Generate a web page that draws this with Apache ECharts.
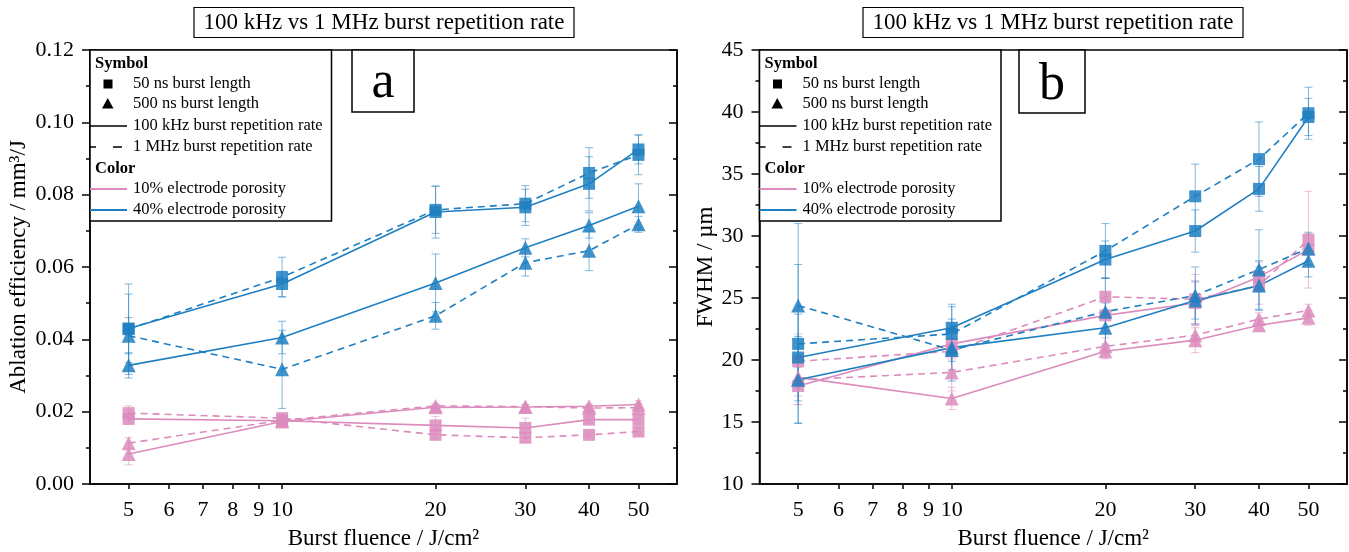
<!DOCTYPE html>
<html><head><meta charset="utf-8">
<script src="https://cdn.jsdelivr.net/npm/echarts@6/dist/echarts.min.js"></script>
<style>html,body{margin:0;padding:0;background:#fff}#c{width:1349px;height:552px}</style>
</head><body><div id="c"></div>
<script>
// ---------- data ----------
const fluence = [5, 10, 20, 30, 40, 50];                    // J/cm²
const xTickValues = [5, 6, 7, 8, 9, 10, 20, 30, 40, 50];

// Panel a: ablation efficiency (mm³/J)
const effP10Sq100k  = [0.0180, 0.0175, 0.0162, 0.0155, 0.0178, 0.0178];
const effP10Sq1M    = [0.0196, 0.0182, 0.0136, 0.0128, 0.0136, 0.0145];
const effP10Tri100k = [0.0083, 0.0173, 0.0212, 0.0213, 0.0215, 0.0220];
const effP10Tri1M   = [0.0113, 0.0176, 0.0216, 0.0214, 0.0210, 0.0211];
const effP40Sq100k  = [0.0430, 0.0553, 0.0752, 0.0765, 0.0830, 0.0925];
const effP40Sq1M    = [0.0428, 0.0572, 0.0758, 0.0775, 0.0860, 0.0910];
const effP40Tri100k = [0.0328, 0.0405, 0.0556, 0.0653, 0.0715, 0.0768];
const effP40Tri1M   = [0.0410, 0.0317, 0.0465, 0.0612, 0.0645, 0.0718];

const effErrP10Sq100k  = [0.0015, 0.0010, 0.0025, 0.0027, 0.0010, 0.0012];
const effErrP10Sq1M    = [0.0020, 0.0010, 0.0010, 0.0012, 0.0008, 0.0010];
const effErrP10Tri100k = [0.0030, 0.0008, 0.0008, 0.0006, 0.0006, 0.0010];
const effErrP10Tri1M   = [0.0015, 0.0008, 0.0006, 0.0006, 0.0006, 0.0010];
const effErrP40Sq100k  = [0.0095, 0.0035, 0.0072, 0.0050, 0.0075, 0.0040];
const effErrP40Sq1M    = [0.0125, 0.0055, 0.0065, 0.0050, 0.0070, 0.0055];
const effErrP40Tri100k = [0.0035, 0.0045, 0.0080, 0.0025, 0.0035, 0.0062];
const effErrP40Tri1M   = [0.0050, 0.0108, 0.0037, 0.0037, 0.0055, 0.0022];

// Panel b: FWHM (µm)
const fwhmP10Sq100k  = [17.9, 21.3, 23.6, 24.6, 26.7, 28.9];
const fwhmP10Sq1M    = [19.9, 20.7, 25.1, 24.9, 26.0, 29.7];
const fwhmP10Tri100k = [18.6, 16.9, 20.7, 21.6, 22.8, 23.4];
const fwhmP10Tri1M   = [18.4, 19.0, 21.1, 22.0, 23.3, 24.0];
const fwhmP40Sq100k  = [20.2, 22.6, 28.1, 30.4, 33.8, 39.6];
const fwhmP40Sq1M    = [21.3, 22.1, 28.8, 33.2, 36.2, 39.9];
const fwhmP40Tri100k = [18.4, 21.0, 22.6, 24.8, 26.0, 28.0];
const fwhmP40Tri1M   = [24.4, 20.8, 23.9, 25.2, 27.3, 29.0];

const fwhmErrP10Sq100k  = [1.5, 1.2, 1.2, 1.8, 1.2, 1.3];
const fwhmErrP10Sq1M    = [2.2, 1.5, 1.5, 2.0, 1.5, 3.9];
const fwhmErrP10Tri100k = [1.5, 0.9, 0.6, 1.0, 0.5, 0.6];
const fwhmErrP10Tri1M   = [2.0, 1.5, 0.7, 0.8, 0.5, 0.5];
const fwhmErrP40Sq100k  = [3.5, 1.9, 1.5, 1.7, 1.8, 1.5];
const fwhmErrP40Sq1M    = [6.4, 2.2, 2.2, 2.6, 3.0, 2.1];
const fwhmErrP40Tri100k = [3.5, 1.8, 2.0, 1.5, 2.0, 1.3];
const fwhmErrP40Tri1M   = [6.6, 2.5, 2.7, 2.3, 3.2, 1.3];

const titleText = '100 kHz vs 1 MHz burst repetition rate';
const xName = 'Burst fluence / J/cm²';
const yNameA = 'Ablation efficiency / mm³/J';
const yNameB = 'FWHM / µm';
const legendSymbolTitle = 'Symbol';
const legendColorTitle = 'Color';
const legendTexts = ['50 ns burst length', '500 ns burst length', '100 kHz burst repetition rate', '1 MHz burst repetition rate', '10% electrode porosity', '40% electrode porosity'];

// ---------- style ----------
const PINK = '#dc8cbc';
const BLUE = '#1f7fc1';
const FONT = "'Liberation Serif', 'Times New Roman', serif";
const LFS = 16.5;   // legend font size
const TFS = 23;     // title / axis-name font size
const KFS = 22;     // tick label font size

const chart = echarts.init(document.getElementById('c'), null, {renderer: 'canvas'});

function lineSeries(gi, vals, color, sym, dashed) {
  return {
    type: 'line', xAxisIndex: gi, yAxisIndex: gi * 2,
    data: fluence.map((x, i) => [x, vals[i]]),
    symbol: sym === 'sq' ? 'rect' : 'triangle',
    symbolSize: sym === 'sq' ? 12 : 14,
    lineStyle: {color: color, width: 1.6, type: dashed ? [7, 5] : 'solid'},
    itemStyle: {color: color, opacity: 0.85},
    z: 3, animation: false, silent: true
  };
}
function errSeries(gi, vals, errs, color) {
  return {
    type: 'custom', xAxisIndex: gi, yAxisIndex: gi * 2,
    data: fluence.map((x, i) => [x, vals[i] - errs[i], vals[i] + errs[i]]),
    encode: {x: 0, y: [1, 2]},
    renderItem: function (params, api) {
      const x = api.value(0);
      const p1 = api.coord([x, api.value(1)]);
      const p2 = api.coord([x, api.value(2)]);
      const w = 4;
      const st = {stroke: color, lineWidth: 1, opacity: 0.55};
      return {type: 'group', children: [
        {type: 'line', shape: {x1: p1[0], y1: p1[1], x2: p2[0], y2: p2[1]}, style: st},
        {type: 'line', shape: {x1: p1[0] - w, y1: p1[1], x2: p1[0] + w, y2: p1[1]}, style: st},
        {type: 'line', shape: {x1: p2[0] - w, y1: p2[1], x2: p2[0] + w, y2: p2[1]}, style: st}
      ]};
    },
    z: 2, animation: false, silent: true
  };
}

function xAxisDef(gi) {
  return {
    gridIndex: gi, type: 'log', logBase: 10, min: 4.2, max: 59.5,
    name: xName, nameLocation: 'middle', nameGap: 43,
    nameTextStyle: {fontFamily: FONT, fontSize: TFS, color: '#000'},
    axisLine: {show: true, lineStyle: {color: '#000', width: 1.5}},
    axisTick: {show: true, inside: false, length: 5, lineStyle: {color: '#000', width: 1.5}, customValues: xTickValues},
    axisLabel: {show: true, fontFamily: FONT, fontSize: KFS, color: '#000', margin: 15, customValues: xTickValues, formatter: v => String(Math.round(v))},
    minorTick: {show: false}, splitLine: {show: false}
  };
}
function yAxesDef(gi, min, max, interval, name, fmt, gap) {
  return [{
    gridIndex: gi, type: 'value', min: min, max: max, interval: interval, position: 'left',
    name: name, nameLocation: 'middle', nameGap: gap,
    nameTextStyle: {fontFamily: FONT, fontSize: TFS, color: '#000'},
    axisLine: {show: true, lineStyle: {color: '#000', width: 1.5}},
    axisTick: {show: true, inside: false, length: 8, lineStyle: {color: '#000', width: 1.5}},
    minorTick: {show: true, splitNumber: 2, length: 4, lineStyle: {color: '#000', width: 1.5}},
    axisLabel: {fontFamily: FONT, fontSize: KFS, color: '#000', margin: 16, formatter: fmt},
    splitLine: {show: false}, minorSplitLine: {show: false}
  }, {
    gridIndex: gi, type: 'value', min: min, max: max, interval: interval, position: 'right',
    axisLine: {show: true, lineStyle: {color: '#000', width: 1.5}},
    axisTick: {show: true, inside: true, length: 8, lineStyle: {color: '#000', width: 1.5}},
    minorTick: {show: true, splitNumber: 2, length: 4, lineStyle: {color: '#000', width: 1.5}},
    axisLabel: {show: false}, splitLine: {show: false}
  }];
}

function legendGraphics(ox) {
  const t = (x, y, s, bold) => ({type: 'text', x: x, y: y, z: 101,
    style: {text: s, font: (bold ? 'bold ' : '') + LFS + 'px ' + FONT, fill: '#000', textVerticalAlign: 'middle', verticalAlign: 'middle', textAlign: 'left'}});
  const ln = (x1, x2, y, color, w) => ({type: 'line', z: 101, shape: {x1: x1, y1: y, x2: x2, y2: y}, style: {stroke: color, lineWidth: w}});
  return [
    {type: 'rect', z: 100, shape: {x: ox, y: 50, width: 241.5, height: 171}, style: {fill: '#fff', stroke: '#000', lineWidth: 1.5}},
    t(ox + 5, 64, legendSymbolTitle, true),
    {type: 'rect', z: 101, shape: {x: ox + 13.5, y: 79.5, width: 9, height: 9}, style: {fill: '#000'}},
    {type: 'polygon', z: 101, shape: {points: [[ox + 12, 108.5], [ox + 23.5, 108.5], [ox + 17.75, 98]]}, style: {fill: '#000'}},
    t(ox + 43, 84, legendTexts[0]),
    t(ox + 43, 104, legendTexts[1]),
    ln(ox, ox + 37, 126, '#000', 1.5),
    t(ox + 43, 126, legendTexts[2]),
    ln(ox, ox + 6, 147, '#000', 1.5),
    ln(ox + 23, ox + 32, 147, '#000', 1.5),
    t(ox + 43, 147, legendTexts[3]),
    t(ox + 5, 168.5, legendColorTitle, true),
    ln(ox, ox + 37, 189, PINK, 2),
    t(ox + 43, 189, legendTexts[4]),
    ln(ox, ox + 37, 210, BLUE, 2),
    t(ox + 43, 210, legendTexts[5])
  ];
}
function boxGraphics(cx, letter, bx, bw, bh, ly) {
  return [
    {type: 'rect', z: 100, shape: {x: cx - 190, y: 7.5, width: 380, height: 30}, style: {fill: '#fff', stroke: '#000', lineWidth: 1.2}},
    {type: 'text', z: 101, x: cx, y: 23, style: {text: titleText, font: TFS + 'px ' + FONT, fill: '#000', align: 'center', verticalAlign: 'middle', textAlign: 'center', textVerticalAlign: 'middle'}},
    {type: 'rect', z: 100, shape: {x: bx, y: 50, width: bw, height: bh}, style: {fill: '#fff', stroke: '#000', lineWidth: 1.5}},
    {type: 'text', z: 101, x: bx + bw / 2, y: ly, style: {text: letter, font: '52px ' + FONT, fill: '#000', align: 'center', verticalAlign: 'middle', textAlign: 'center', textVerticalAlign: 'middle'}}
  ];
}

const series = [
  errSeries(0, effP10Sq100k, effErrP10Sq100k, PINK),
  errSeries(0, effP10Sq1M, effErrP10Sq1M, PINK),
  errSeries(0, effP10Tri100k, effErrP10Tri100k, PINK),
  errSeries(0, effP10Tri1M, effErrP10Tri1M, PINK),
  errSeries(0, effP40Sq100k, effErrP40Sq100k, BLUE),
  errSeries(0, effP40Sq1M, effErrP40Sq1M, BLUE),
  errSeries(0, effP40Tri100k, effErrP40Tri100k, BLUE),
  errSeries(0, effP40Tri1M, effErrP40Tri1M, BLUE),
  lineSeries(0, effP10Sq100k, PINK, 'sq', false),
  lineSeries(0, effP10Sq1M, PINK, 'sq', true),
  lineSeries(0, effP10Tri100k, PINK, 'tri', false),
  lineSeries(0, effP10Tri1M, PINK, 'tri', true),
  lineSeries(0, effP40Sq100k, BLUE, 'sq', false),
  lineSeries(0, effP40Sq1M, BLUE, 'sq', true),
  lineSeries(0, effP40Tri100k, BLUE, 'tri', false),
  lineSeries(0, effP40Tri1M, BLUE, 'tri', true),

  errSeries(1, fwhmP10Sq100k, fwhmErrP10Sq100k, PINK),
  errSeries(1, fwhmP10Sq1M, fwhmErrP10Sq1M, PINK),
  errSeries(1, fwhmP10Tri100k, fwhmErrP10Tri100k, PINK),
  errSeries(1, fwhmP10Tri1M, fwhmErrP10Tri1M, PINK),
  errSeries(1, fwhmP40Sq100k, fwhmErrP40Sq100k, BLUE),
  errSeries(1, fwhmP40Sq1M, fwhmErrP40Sq1M, BLUE),
  errSeries(1, fwhmP40Tri100k, fwhmErrP40Tri100k, BLUE),
  errSeries(1, fwhmP40Tri1M, fwhmErrP40Tri1M, BLUE),
  lineSeries(1, fwhmP10Sq100k, PINK, 'sq', false),
  lineSeries(1, fwhmP10Sq1M, PINK, 'sq', true),
  lineSeries(1, fwhmP10Tri100k, PINK, 'tri', false),
  lineSeries(1, fwhmP10Tri1M, PINK, 'tri', true),
  lineSeries(1, fwhmP40Sq100k, BLUE, 'sq', false),
  lineSeries(1, fwhmP40Sq1M, BLUE, 'sq', true),
  lineSeries(1, fwhmP40Tri100k, BLUE, 'tri', false),
  lineSeries(1, fwhmP40Tri1M, BLUE, 'tri', true)
];

const yA = yAxesDef(0, 0, 0.12, 0.02, yNameA, v => v.toFixed(2), 60);
const yB = yAxesDef(1, 10, 45, 5, yNameB, v => String(v), 39);

chart.setOption({
  animation: false,
  backgroundColor: '#fff',
  grid: [
    {left: 90, top: 50, width: 587, height: 434, show: true, borderColor: '#000', borderWidth: 1.5, backgroundColor: 'transparent', containLabel: false, outerBoundsMode: 'none'},
    {left: 759.5, top: 50, width: 587.5, height: 434, show: true, borderColor: '#000', borderWidth: 1.5, backgroundColor: 'transparent', containLabel: false, outerBoundsMode: 'none'}
  ],
  xAxis: [xAxisDef(0), xAxisDef(1)],
  yAxis: [yA[0], yA[1], yB[0], yB[1]],
  series: series,
  graphic: [].concat(
    legendGraphics(90), legendGraphics(759.5),
    boxGraphics(384, 'a', 352, 62, 62, 83),
    boxGraphics(1053, 'b', 1019, 66, 63, 85)
  )
});
</script>
</body></html>
